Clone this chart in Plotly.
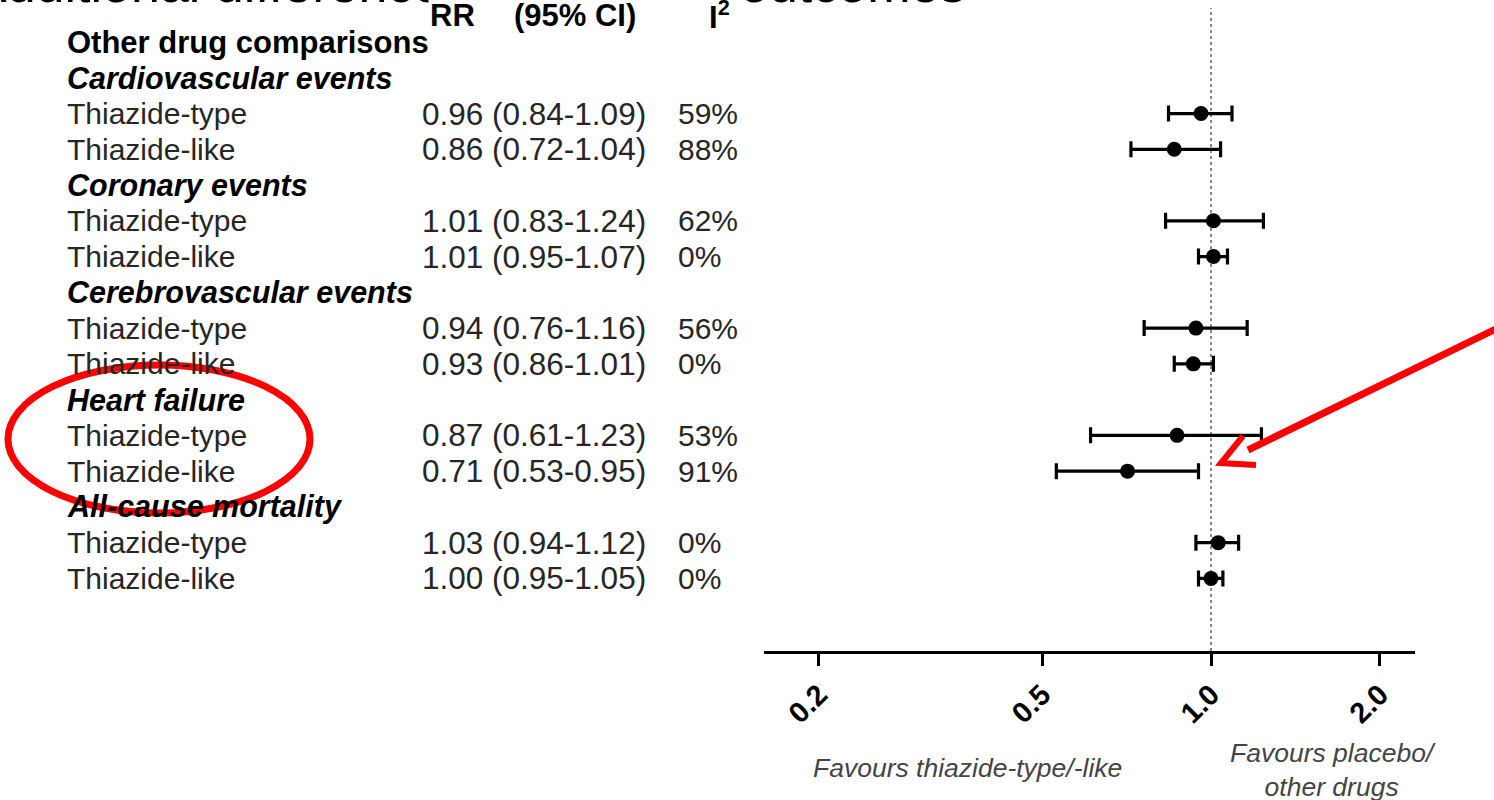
import math
import plotly.graph_objects as go

# ---------------- data ----------------
section_title = "Other drug comparisons"
groups = ["Cardiovascular events", "Coronary events", "Cerebrovascular events",
          "Heart failure", "All-cause mortality"]
comparisons = ["Thiazide-type", "Thiazide-like"]
rr = [0.96, 0.86, 1.01, 1.01, 0.94, 0.93, 0.87, 0.71, 1.03, 1.00]
ci_lo = [0.84, 0.72, 0.83, 0.95, 0.76, 0.86, 0.61, 0.53, 0.94, 0.95]
ci_hi = [1.09, 1.04, 1.24, 1.07, 1.16, 1.01, 1.23, 0.95, 1.12, 1.05]
i2 = [59, 88, 62, 0, 56, 0, 53, 91, 0, 0]
tick_vals = [0.2, 0.5, 1.0, 2.0]
tick_text = ["0.2", "0.5", "1.0", "2.0"]

# ---------------- layout helpers ----------------
W, H = 1494, 800
def px(x):
    return x / W
def py(y):
    return 1 - y / H

TEXT_FONT = "Arial, Liberation Sans, sans-serif"
TEXT_COL = "#262626"

# build row positions
item_rows, item_labels = [], []
group_rows = []
r = 1
for g in groups:
    group_rows.append(r)
    r += 1
    for c in comparisons:
        item_rows.append(r)
        item_labels.append(c)
        r += 1

fig = go.Figure()
fig.add_trace(go.Scatter(
    x=rr, y=item_rows, mode="markers",
    marker=dict(color="black", size=15),
    error_x=dict(type="data", symmetric=False,
                 array=[h - v for h, v in zip(ci_hi, rr)],
                 arrayminus=[v - l for v, l in zip(rr, ci_lo)],
                 color="black", thickness=3.2, width=8),
    showlegend=False, hoverinfo="skip",
))

ann = []
# partially visible slide title at the very top
ann.append(dict(text="Additional differences", xref="paper", yref="paper",
                x=px(470), y=py(-16), xanchor="right", yanchor="middle",
                showarrow=False, font=dict(family=TEXT_FONT, size=52, color="black")))
ann.append(dict(text="outcomes", xref="paper", yref="paper",
                x=px(738), y=py(-16), xanchor="left", yanchor="middle",
                showarrow=False, font=dict(family=TEXT_FONT, size=52, color="black")))
# column headers
for t, x in [("RR", 428), ("(95% CI)", 512), ("I<sup>2</sup>", 707)]:
    ann.append(dict(text=t, xref="paper", yref="paper", x=px(x), y=py(15),
                    xanchor="left", yanchor="middle", showarrow=False, bgcolor="white",
                    font=dict(family=TEXT_FONT, size=31, color="black", weight="bold")))
# section title
ann.append(dict(text=section_title, xref="paper", yref="y", x=px(65), y=0,
                xanchor="left", yanchor="middle", showarrow=False,
                font=dict(family=TEXT_FONT, size=31, color="black", weight="bold")))
for g, rw in zip(groups, group_rows):
    ann.append(dict(text=f"<b><i>{g}</i></b>", xref="paper", yref="y", x=px(65), y=rw,
                    xanchor="left", yanchor="middle", showarrow=False,
                    font=dict(family=TEXT_FONT, size=30.5, color="black")))
for lab, rw, v, l, h, q in zip(item_labels, item_rows, rr, ci_lo, ci_hi, i2):
    ann.append(dict(text=lab, xref="paper", yref="y", x=px(65), y=rw,
                    xanchor="left", yanchor="middle", showarrow=False,
                    font=dict(family=TEXT_FONT, size=30, color=TEXT_COL)))
    ann.append(dict(text=f"{v:.2f} ({l:.2f}-{h:.2f})", xref="paper", yref="y", x=px(420), y=rw,
                    xanchor="left", yanchor="middle", showarrow=False,
                    font=dict(family=TEXT_FONT, size=31.5, color=TEXT_COL)))
    ann.append(dict(text=f"{q}%", xref="paper", yref="y", x=px(676), y=rw,
                    xanchor="left", yanchor="middle", showarrow=False,
                    font=dict(family=TEXT_FONT, size=30, color=TEXT_COL)))
# favours labels
ann.append(dict(text="<i>Favours thiazide-type/-like</i>", xref="paper", yref="paper",
                x=px(968), y=py(768), xanchor="center", yanchor="middle", showarrow=False,
                font=dict(family=TEXT_FONT, size=26.5, color="#444444")))
ann.append(dict(text="<i>Favours placebo/<br>other drugs</i>", xref="paper", yref="paper",
                x=px(1333), y=py(770), xanchor="center", yanchor="middle", showarrow=False,
                font=dict(family=TEXT_FONT, size=26.5, color="#444444")))

y_bot = py(651)
y_top = py(8)
shapes = [
    dict(type="line", xref="x", yref="paper", x0=1, x1=1, y0=y_bot, y1=y_top,
         line=dict(color="#8a8a8a", width=2, dash="dot"), layer="below"),
    dict(type="circle", xref="paper", yref="paper", x0=px(8), x1=px(310),
         y0=py(513), y1=py(365), line=dict(color="#ff0000", width=7)),
    dict(type="line", xref="paper", yref="paper", x0=px(1500), y0=py(327),
         x1=px(1248), y1=py(450), line=dict(color="#ff0000", width=7)),
    dict(type="path", xref="paper", yref="paper",
         path=f"M {px(1243)} {py(436)} L {px(1221)} {py(463)} L {px(1256)} {py(465)}",
         line=dict(color="#ff0000", width=6)),
]

x_left = (764 - 1211) / 561
x_right = (1415 - 1211) / 561

fig.update_layout(
    width=W, height=H, margin=dict(l=0, r=0, t=0, b=0),
    paper_bgcolor="white", plot_bgcolor="white",
    xaxis=dict(type="log", domain=[px(764), px(1415)], range=[x_left, x_right],
               tickvals=tick_vals, ticktext=tick_text, tickangle=-45,
               showline=True, linecolor="black", linewidth=3,
               ticks="outside", ticklen=12, tickwidth=3, tickcolor="black",
               showgrid=False, zeroline=False,
               tickfont=dict(family=TEXT_FONT, size=29, color="black", weight="bold")),
    yaxis=dict(domain=[y_bot, y_top], range=[17.03, -0.951], visible=False,
               showgrid=False, zeroline=False),
    annotations=ann, shapes=shapes,
)

fig.write_html("out.html")
